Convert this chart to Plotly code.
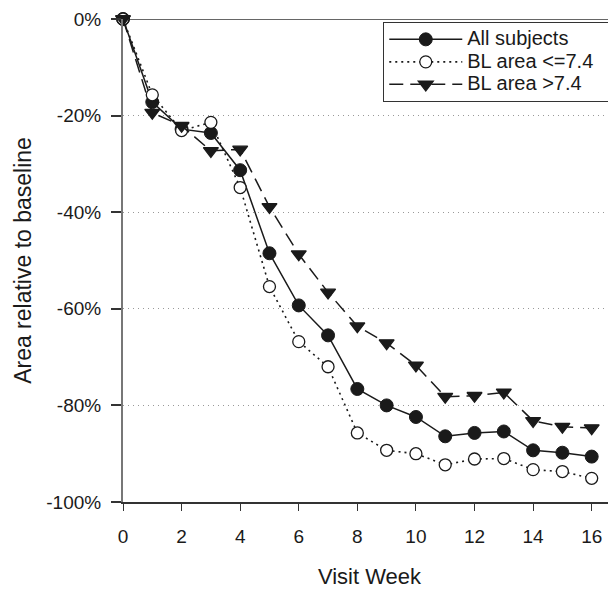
import plotly.graph_objects as go

weeks = list(range(0, 17))
all_subjects = [0, -17.2, -22.8, -23.6, -31.3, -48.5, -59.3, -65.5, -76.6, -80.0, -82.4, -86.4, -85.7, -85.4, -89.3, -89.8, -90.6]
bl_low = [0, -15.7, -23.1, -21.4, -34.9, -55.4, -66.8, -72.0, -85.7, -89.3, -90.0, -92.3, -91.1, -91.0, -93.3, -93.7, -95.1]
bl_high = [0, -19.4, -22.1, -27.3, -27.0, -38.9, -48.7, -56.6, -63.6, -67.1, -71.7, -78.2, -78.0, -77.3, -83.2, -84.4, -84.7]

series_names = ["All subjects", "BL area <=7.4", "BL area >7.4"]
y_tickvals = [0, -20, -40, -60, -80, -100]
y_ticktext = ["0%", "-20%", "-40%", "-60%", "-80%", "-100%"]
x_tickvals = [0, 2, 4, 6, 8, 10, 12, 14, 16]

FONT = "Liberation Sans, Arial, Helvetica, sans-serif"
INK = "#1a1a1a"


def legend_label(name):
    # larger visible text while keeping compact legend rows
    return '<span style="font-size:20px">' + name.replace("<", "&lt;") + '\u00a0\u00a0</span>'


fig = go.Figure()
fig.add_trace(go.Scatter(
    x=weeks, y=all_subjects, name=legend_label(series_names[0]), mode="lines+markers",
    line=dict(color=INK, width=1.5, dash="solid"),
    marker=dict(symbol="circle", size=13, color=INK, line=dict(color=INK, width=1)),
    cliponaxis=False))
fig.add_trace(go.Scatter(
    x=weeks, y=bl_low, name=legend_label(series_names[1]), mode="lines+markers",
    line=dict(color=INK, width=1.6, dash="2px,4px"),
    marker=dict(symbol="circle", size=12, color="white", line=dict(color=INK, width=1.3)),
    cliponaxis=False))
fig.add_trace(go.Scatter(
    x=weeks, y=bl_high, name=legend_label(series_names[2]), mode="lines+markers",
    line=dict(color=INK, width=1.5, dash="14px,7px"),
    marker=dict(symbol="triangle-down", size=13, color=INK, line=dict(color=INK, width=1.3)),
    cliponaxis=False))

fig.add_shape(type="line", xref="paper", yref="y", x0=0, x1=1, y0=0, y1=0,
              line=dict(color="#333", width=1.5), layer="below")

# page body has an 8px default margin: figure is sized/shifted to fit the 616x597 window
fig.update_layout(
    width=608, height=581,
    margin=dict(l=115, r=0, t=11, b=75, pad=0),
    paper_bgcolor="white", plot_bgcolor="white",
    font=dict(family=FONT, size=19, color=INK),
    showlegend=True,
    legend=dict(
        x=0.99, xanchor="right", y=0.994, yanchor="top",
        bgcolor="white", bordercolor="#333", borderwidth=1.2,
        font=dict(family=FONT, size=15, color=INK),
        itemwidth=73, tracegroupgap=0,
    ),
    xaxis=dict(
        range=[0, 16.83], tickmode="array", tickvals=x_tickvals,
        showgrid=False, zeroline=False,
        showline=True, linecolor="#333", linewidth=1.5,
        ticks="outside", ticklen=7, tickcolor="#333", tickwidth=1.2,
        tickfont=dict(size=19), ticklabelstandoff=9,
        title=dict(text="Visit Week", font=dict(size=22, color=INK), standoff=27),
    ),
    yaxis=dict(
        range=[-100, 0], tickmode="array", tickvals=y_tickvals, ticktext=y_ticktext,
        showgrid=True, gridcolor="#999", griddash="1px,4px", gridwidth=1,
        zeroline=False,
        showline=True, linecolor="#777", linewidth=2,
        ticks="outside", ticklen=10, tickcolor="#333", tickwidth=1.5,
        tickfont=dict(size=19), ticklabelstandoff=6,
        title=dict(text="Area relative to baseline", font=dict(size=23, color=INK), standoff=8),
    ),
)

fig.write_html("out.html")
